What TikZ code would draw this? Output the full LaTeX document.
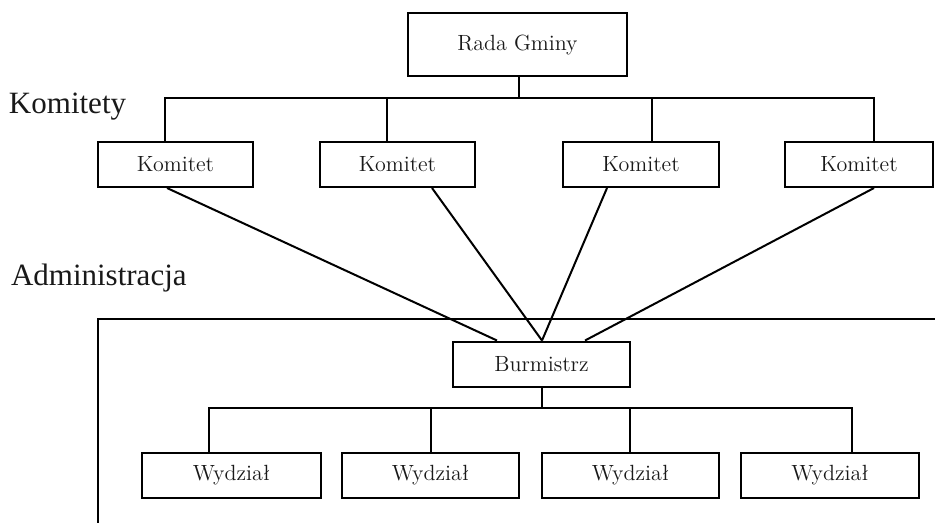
\documentclass[tikz,border=0pt]{standalone}
\usepackage{fontspec}
\usepackage{tikz}
\usetikzlibrary{positioning}
\newfontfamily\labelfont{Liberation Serif}

\begin{document}
\begin{tikzpicture}[x=0.5pt,y=-0.5pt,line width=1pt]
\tikzstyle{every node}+=[inner sep=0pt, text=black!90]
\tikzstyle{unit}=[draw=black, font=\fontsize{11}{13}\selectfont, minimum height=22.5pt]
\tikzstyle{side}=[font=\labelfont\fontsize{15.5}{18}\selectfont, anchor=base west]
\useasboundingbox (0,0) rectangle (935,527);
% labels
\node[side] (lkom) at (8,113) {Komitety};
\node[side] (ladm) at (10,285) {Administracja};
% rada
\node[unit, minimum width=109.5pt, minimum height=31.5pt] (rada) at (517.5,44.5) {Rada Gminy};
% komitety
\node[unit, minimum width=77.5pt] (k1) at (175.5,164.5) {Komitet};
\node[unit, minimum width=77.5pt] (k2) at (397.5,164.5) {Komitet};
\node[unit, minimum width=78pt] (k3) at (641,164.5) {Komitet};
\node[unit, minimum width=74pt] (k4) at (859,164.5) {Komitet};
\draw (rada.south -| 519,0) -- (519,97.5);
\draw (k1.north -| 165,0) |- (874,97.5) -- (k4.north -| 874,0);
\draw (k2.north -| 387,0) -- (387,97.5);
\draw (k3.north -| 652,0) -- (652,97.5);
% administracja
\draw (935,319) -- (98,319) -- (98,523);
\node[unit, minimum width=88.5pt] (burm) at (541.5,364) {Burmistrz};
\draw (k1.south -| 167,0) -- (burm.north -| 497,0);
\draw (k2.south -| 432,0) -- (burm.north -| 542,0);
\draw (k3.south -| 607,0) -- (burm.north -| 542,0);
\draw (k4.south -| 874,0) -- (burm.north -| 585,0);
% wydzialy
\node[unit, minimum width=89.5pt] (w1) at (231.5,475) {Wydział};
\node[unit, minimum width=88.5pt] (w2) at (430.5,475) {Wydział};
\node[unit, minimum width=88.5pt] (w3) at (630.5,475) {Wydział};
\node[unit, minimum width=89pt] (w4) at (830,475) {Wydział};
\draw (burm.south -| 542,0) -- (542,408);
\draw (w1.north -| 209,0) |- (852,408) -- (w4.north -| 852,0);
\draw (w2.north -| 431,0) -- (431,408);
\draw (w3.north -| 630,0) -- (630,408);
\end{tikzpicture}
\end{document}
